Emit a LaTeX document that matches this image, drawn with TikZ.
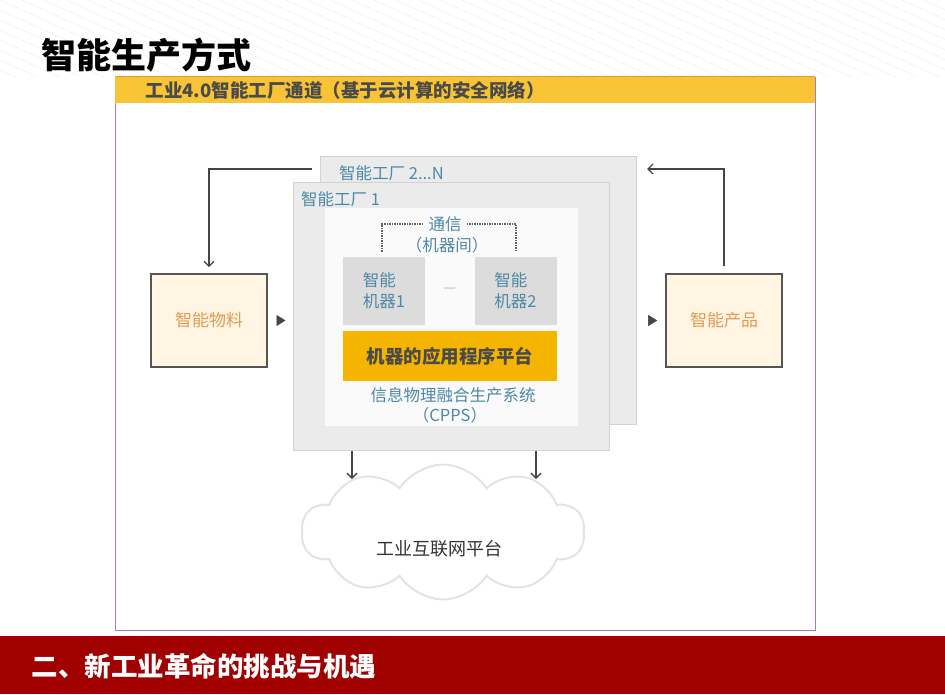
\documentclass[tikz,border=0pt]{standalone}
\usepackage{fontspec}
\setmainfont{Noto Sans CJK SC}
\usepackage{xcolor}
\definecolor{BandYellow}{HTML}{F8C435}
\definecolor{BandEdge}{HTML}{E89A2C}
\definecolor{FrameViolet}{HTML}{A57BC2}
\definecolor{FactoryGray}{HTML}{EBEBEB}
\definecolor{FactoryEdge}{HTML}{D2D2D2}
\definecolor{InnerWhite}{HTML}{FAFAFA}
\definecolor{MachineGray}{HTML}{DCDCDC}
\definecolor{PlatformGold}{HTML}{F4B400}
\definecolor{LabelBlue}{HTML}{4E88A6}
\definecolor{CreamFill}{HTML}{FFF5E2}
\definecolor{BoxEdge}{HTML}{555555}
\definecolor{TanText}{HTML}{E39B55}
\definecolor{DarkText}{HTML}{4A4A4A}
\definecolor{ArrowGray}{HTML}{454545}
\definecolor{CloudEdge}{HTML}{E3E3E3}
\definecolor{BarRed}{HTML}{A10000}
\usepackage{tikz}
\usetikzlibrary{arrows.meta, calc, shapes.symbols}

\begin{document}
\begin{tikzpicture}[x=1pt, y=-1pt, >={Straight Barb[length=5pt,width=10pt]},
  box/.style={draw=BoxEdge, line width=1.6pt, fill=CreamFill, text=TanText, inner sep=0pt,
    minimum width=116, minimum height=93, font=\fontsize{17}{20}\selectfont},
  factory/.style={draw=FactoryEdge, fill=FactoryGray, line width=1pt, inner sep=0pt,
    minimum width=316, minimum height=268},
  machine/.style={fill=MachineGray, text=LabelBlue, inner sep=0pt, align=left,
    minimum width=82, minimum height=68, font=\fontsize{16.5}{21}\selectfont},
  bluetext/.style={text=LabelBlue, inner sep=0pt, font=\fontsize{16.5}{19}\selectfont},
  flow/.style={->, ArrowGray, line width=1.3pt},
  tri/.style={-{Triangle[length=9pt,width=11pt]}, ArrowGray, line width=0.5pt}]
  \useasboundingbox (0,0) rectangle (945,694);

  % Stripes at the top
  \begin{scope}
    \clip (0,0) rectangle (945,76);
    \foreach \s in {-330,-308,...,950}
      \draw[gray!10, line width=0.7pt] (\s,0) -- ++(220,100);
  \end{scope}
  \node[anchor=west, font=\bfseries\fontsize{35}{40}\selectfont] (title) at (38,55) {智能生产方式};

  % Frame and band
  \node[draw=FrameViolet, line width=1pt, inner sep=0pt, minimum width=700, minimum height=553] (frame) at (465,353.5) {};
  \node[fill=BandYellow, inner sep=0pt, minimum width=700, minimum height=26, anchor=north] (band) at (frame.north) {};
  \draw[BandEdge, line width=1pt] (band.north west) -- (band.north east);
  \node[anchor=west, text=DarkText, font=\bfseries\fontsize{18.5}{20}\selectfont] (bandtxt) at (142,90)
    {工业4.0智能工厂通道（基于云计算的安全网络）};

  % Factories
  \node[factory] (fac2) at (478,290.5) {};
  \node[bluetext, anchor=west] (fac2txt) at (339,173) {智能工厂 2...N};
  \node[factory] (fac1) at (451,316) {};
  \node[bluetext, anchor=west] (fac1txt) at (301,199) {智能工厂 1};
  \node[fill=InnerWhite, inner sep=0pt, minimum width=253, minimum height=218] (inner) at (451.5,317) {};

  % Machines
  \node[bluetext] (comm) at (445,224) {通信};
  \node[bluetext] (commsub) at (447,245) {（机器间）};
  \coordinate (brL) at (382,252);
  \coordinate (brR) at (516,252);
  \draw[ArrowGray!85, line width=1.5pt, densely dotted] ([xshift=-5pt]comm.west) -| (brL);
  \draw[ArrowGray!85, line width=1.5pt, densely dotted] ([xshift=5pt]comm.east) -| (brR);
  \node[machine] (mach1) at (384,291) {智能\\机器1};
  \node[machine] (mach2) at (515.5,291) {智能\\机器2};
  \node[text=gray!60, font=\fontsize{14}{16}\selectfont] (dots) at (450,290) {—};
  \node[fill=PlatformGold, text=DarkText, inner sep=0pt, minimum width=214, minimum height=50,
    font=\bfseries\fontsize{18.5}{20}\selectfont] (platform) at (450,356) {机器的应用程序平台};
  \node[bluetext] (cpps) at (453,395) {信息物理融合生产系统};
  \node[bluetext] (cppssub) at (450,415) {（CPPS）};

  % Material and product
  \node[box] (mat) at (209,320.5) {智能物料};
  \node[box] (prod) at (724,320.5) {智能产品};
  \draw[tri] ([xshift=9pt]mat.east) -- ([xshift=-7pt]fac1.west |- mat.east);
  \draw[tri] ([xshift=-17pt]prod.west) -- ([xshift=-8pt]prod.west);
  \coordinate (loopL) at (312,169);
  \coordinate (loopR) at (647,169);
  \draw[flow, shorten >=6pt] (loopL) -| (mat.north);
  \draw[flow, shorten <=7pt] (prod.north) |- (loopR);

  % Cloud
  \node[cloud, cloud puffs=10, cloud puff arc=115, aspect=2.1, draw=CloudEdge, line width=2pt, fill=white,
    inner sep=0pt, minimum width=283, minimum height=135] (cloud) at (443,532) {};
  \node[text=black!80, font=\fontsize{18}{20}\selectfont] (cloudtxt) at (439,549) {工业互联网平台};
  \coordinate (cl) at (352,479);
  \coordinate (cr) at (536,479);
  \draw[flow] (fac1.south -| cl) -- (cl);
  \draw[flow] (fac1.south -| cr) -- (cr);

  % Bottom bar
  \fill[BarRed] (0,636) rectangle (945,694);
  \node[anchor=west, text=white, font=\bfseries\fontsize{26.5}{30}\selectfont] (bartxt) at (28,666) {二、新工业革命的挑战与机遇};
\end{tikzpicture}
\end{document}
